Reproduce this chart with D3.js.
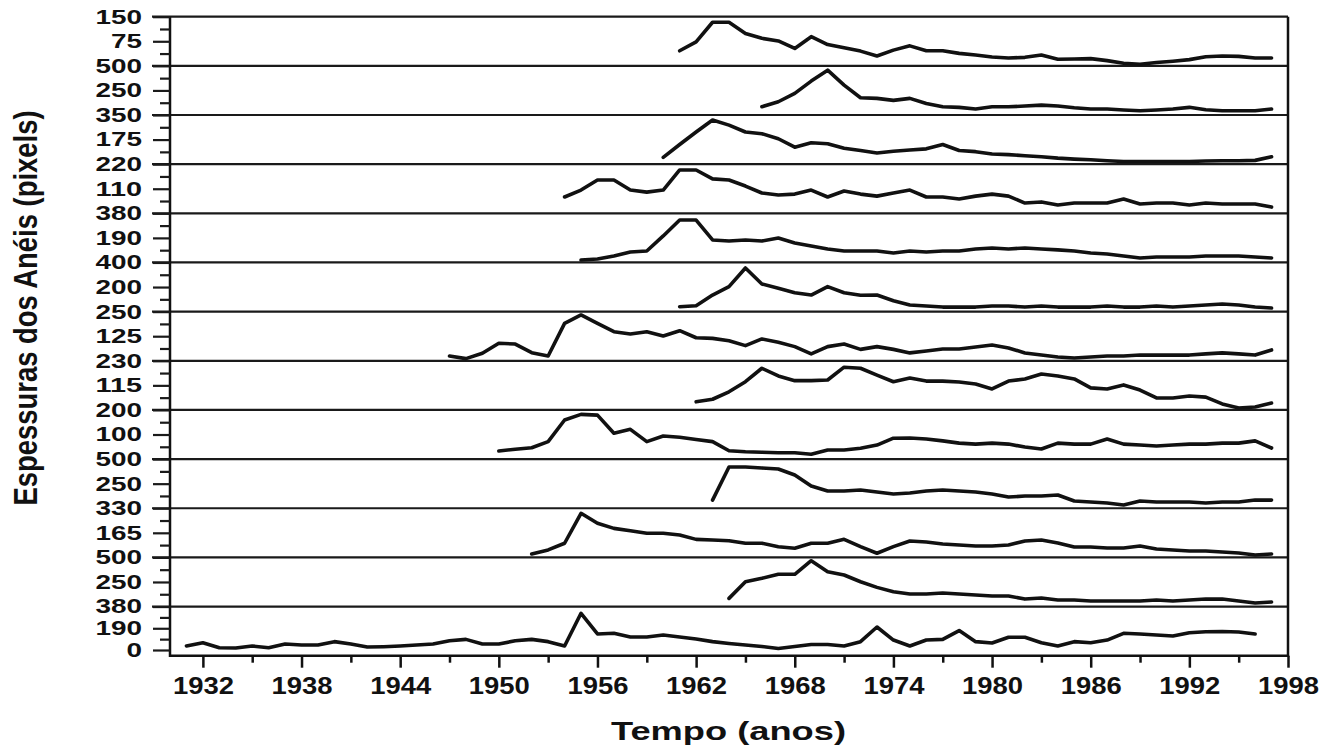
<!DOCTYPE html>
<html>
<head>
<meta charset="utf-8">
<script src="https://cdn.jsdelivr.net/npm/d3@7"></script>
<style>
  body { margin: 0; background: #fff; }
  text { font-family: "Liberation Sans", Arial, sans-serif; font-weight: bold; fill: #111; }
</style>
</head>
<body>
<div id="chart"></div>
<script>
// top value of each stacked panel (top to bottom)
const panelMax = [150, 500, 350, 220, 380, 400, 250, 230, 200, 500, 330, 500, 380];
// first year of every ring-width series
const startYear = [1961, 1966, 1960, 1954, 1955, 1961, 1947, 1962, 1950, 1963, 1952, 1964, 1931];

const ring01 = [46,73,133,133,99,84,76,53,89,65,55,45,30,48,61,46,46,38,33,27,24,26,33,20,21,22,16,8,5,10,14,19,28,30,29,24,24];
const ring02 = [84,135,220,345,456,304,176,169,149,169,118,84,78,61,84,84,91,101,91,74,61,61,51,44,51,61,78,54,44,44,44,61];
const ring03 = [48,140,229,314,278,229,217,181,121,152,145,113,97,80,92,101,109,140,97,89,72,68,60,53,43,36,31,24,19,19,19,19,19,22,24,24,27,53];
const ring04 = [73,104,149,149,104,95,104,194,194,154,149,122,91,82,86,104,73,100,86,77,91,104,73,73,64,77,86,77,46,51,37,46,46,46,64,42,46,46,37,46,42,42,42,28];
const ring05 = [19,27,50,81,89,205,328,328,174,166,174,166,189,151,127,104,89,89,89,73,89,81,89,89,104,112,104,112,104,97,89,73,66,50,35,42,42,42,50,50,50,42,35];
const ring06 = [40,48,135,203,355,225,190,154,135,203,154,133,135,89,54,46,37,37,37,46,46,37,46,37,37,37,46,37,37,46,37,46,54,62,54,37,29];
const ring07 = [24,11,38,89,85,41,24,190,233,190,148,136,148,126,153,117,114,102,77,111,94,72,35,72,85,58,72,58,40,50,60,60,70,80,65,40,29,19,14,19,24,24,29,29,29,29,35,40,35,29,55];
const ring08 = [38,50,85,132,195,159,137,137,140,200,195,163,132,149,135,135,131,121,98,135,145,168,159,145,103,98,117,93,56,56,65,60,28,9,14,32];
const ring09 = [33,40,46,71,159,182,179,105,121,71,94,89,80,71,34,30,28,26,26,20,37,37,44,57,85,86,82,74,65,61,65,61,49,41,65,61,61,82,61,57,53,57,61,61,65,65,74,45];
const ring10 = [83,419,419,409,399,338,226,175,175,185,165,145,155,175,185,175,165,145,114,124,124,134,73,63,53,33,73,63,63,63,53,63,63,83,83];
const ring11 = [23,50,95,296,229,195,179,162,162,150,121,117,112,95,95,72,61,95,95,121,72,28,72,110,103,90,83,76,76,83,110,117,97,70,70,63,63,76,56,50,43,43,36,30,16,23];
const ring12 = [83,252,287,328,328,466,354,321,252,195,151,127,127,137,127,117,107,107,76,87,66,66,56,56,56,56,66,56,66,76,76,56,36,46];
const ring13 = [35,64,20,17,35,20,52,44,44,73,52,26,29,35,44,52,81,93,52,52,81,93,73,35,321,140,146,114,114,131,114,96,73,57,44,31,13,31,48,48,35,73,201,87,35,87,93,170,73,61,111,111,64,35,73,64,87,146,140,131,122,151,160,162,157,140];

const yearTicks = [1932, 1938, 1944, 1950, 1956, 1962, 1968, 1974, 1980, 1986, 1992, 1998];
const yearMinor = [1935, 1941, 1947, 1953, 1959, 1965, 1971, 1977, 1983, 1989, 1995];

const rings = [ring01, ring02, ring03, ring04, ring05, ring06, ring07, ring08, ring09, ring10, ring11, ring12, ring13];

const width = 1337, height = 750;
const margin = { left: 170, right: 1288, top: 16.7, bottom: 655.7 };
const n = panelMax.length;
const bandH = (margin.bottom - margin.top) / n;

const svg = d3.select("#chart").append("svg")
    .attr("width", width).attr("height", height)
    .attr("viewBox", [0, 0, width, height]);

const x = d3.scaleLinear().domain([1930, 1998]).range([margin.left, margin.right]);

// separators (they also act as the long ticks on the left)
for (let i = 0; i < n; i++) {
  const y0 = margin.top + i * bandH;
  svg.append("line")
      .attr("x1", 152).attr("x2", margin.right)
      .attr("y1", y0).attr("y2", y0)
      .attr("stroke", "#1a1a1a").attr("stroke-width", 2.2);
}
// frame
svg.append("path")
    .attr("d", `M${margin.left},${margin.top}V${margin.bottom}H${margin.right}V${margin.top}`)
    .attr("fill", "none").attr("stroke", "#111").attr("stroke-width", 2.5);

const line = d3.line()
    .x(d => x(d[0]))
    .y(d => d[1]);

rings.forEach((vals, i) => {
  const y0 = margin.top + i * bandH;
  const last = i === n - 1;
  const yZero = last ? margin.bottom - 5.7 : y0 + bandH;
  const max = panelMax[i];
  const y = d3.scaleLinear().domain([0, max]).range([yZero, y0]);

  const majors = last ? [max, max / 2, 0] : [max, max / 2];
  const g = svg.append("g").attr("transform", `translate(${margin.left},0)`);
  g.call(d3.axisLeft(y).tickValues(majors).tickSize(17).tickPadding(11).tickFormat(d3.format("d")))
   .call(a => a.select(".domain").remove());
  g.selectAll("line").attr("stroke", "#1a1a1a").attr("stroke-width", 2.2);
  g.selectAll("text")
      .attr("font-size", 20)
      .attr("textLength", function() { return this.textContent.length * 15.5; })
      .attr("lengthAdjust", "spacingAndGlyphs");

  svg.append("g").attr("transform", `translate(${margin.left},0)`)
      .call(d3.axisLeft(y).tickValues([max / 4, 3 * max / 4]).tickSize(10).tickFormat(""))
      .call(a => a.select(".domain").remove())
      .selectAll("line").attr("stroke", "#1a1a1a").attr("stroke-width", 2.2);

  const pts = vals.map((v, k) => [startYear[i] + k, y(v)]);
  svg.append("path")
      .datum(pts)
      .attr("fill", "none")
      .attr("stroke", "#111")
      .attr("stroke-width", 3.6)
      .attr("stroke-linejoin", "round")
      .attr("stroke-linecap", "round")
      .attr("d", line);
});

// x axis
const gx = svg.append("g").attr("transform", `translate(0,${margin.bottom})`);
gx.call(d3.axisBottom(x).tickValues(yearTicks).tickSize(12).tickPadding(9).tickFormat(d3.format("d")))
  .call(a => a.select(".domain").remove());
gx.selectAll("line").attr("stroke", "#111").attr("stroke-width", 2.5);
gx.selectAll("text")
    .attr("font-size", 24)
    .attr("textLength", 61)
    .attr("lengthAdjust", "spacingAndGlyphs");

svg.append("g").attr("transform", `translate(0,${margin.bottom})`)
    .call(d3.axisBottom(x).tickValues(yearMinor).tickSize(7).tickFormat(""))
    .call(a => a.select(".domain").remove())
    .selectAll("line").attr("stroke", "#111").attr("stroke-width", 2.5);

// titles
svg.append("text")
    .attr("x", 728.5).attr("y", 740)
    .attr("text-anchor", "middle")
    .attr("font-size", 26)
    .attr("textLength", 235).attr("lengthAdjust", "spacingAndGlyphs")
    .text("Tempo (anos)");

svg.append("text")
    .attr("transform", "translate(37,308) scale(1.35,1) rotate(-90)")
    .attr("text-anchor", "middle")
    .attr("font-size", 24)
    .attr("textLength", 395).attr("lengthAdjust", "spacingAndGlyphs")
    .text("Espessuras dos Anéis (pixels)");
</script>
</body>
</html>
